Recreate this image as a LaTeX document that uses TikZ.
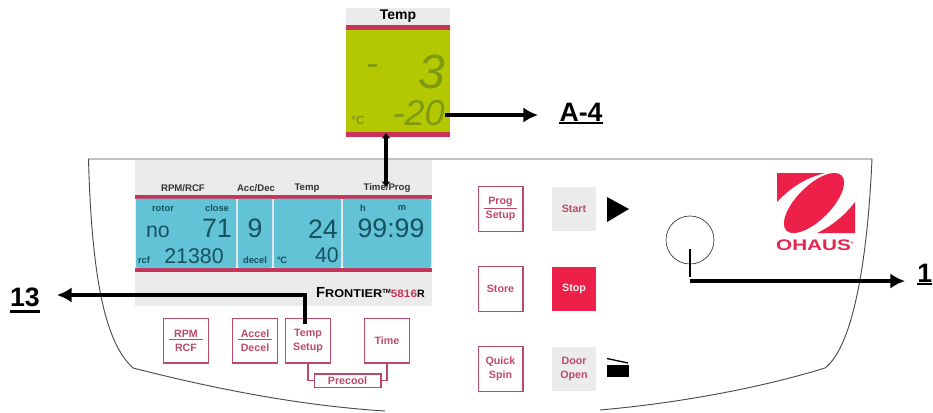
\documentclass[tikz,border=0pt]{standalone}
\usepackage{fontspec}
\setmainfont{Liberation Sans}
\usetikzlibrary{arrows.meta}
\definecolor{panelgray}{HTML}{EBEBEB}
\definecolor{barred}{HTML}{C9335A}
\definecolor{keyred}{HTML}{BE4A68}
\definecolor{stopred}{HTML}{EC2048}
\definecolor{lcdblue}{HTML}{62C3D6}
\definecolor{lcdink}{HTML}{17505F}
\definecolor{lcdgreen}{HTML}{B4C800}
\definecolor{segink}{HTML}{7F9A10}
\def\sz#1{\fontsize{#1}{#1}\selectfont}
\def\frc#1#2#3{\underline{\makebox[#1]{#2}}\\#3}
\begin{document}
\begin{tikzpicture}[x=0.75pt,y=-0.75pt,>={Latex[length=11pt,width=11.5pt]},
  keybox/.style={draw=keyred,line width=1pt,minimum width=33.5pt,minimum height=33.5pt,inner sep=0pt,
    text=keyred,align=center,font=\bfseries\fontsize{8}{10.5}\selectfont},
  graykey/.style={keybox,draw=none,fill=panelgray},
  head/.style={text=black!80,inner sep=0pt,font=\bfseries\sz{7.2}},
  small/.style={text=lcdink,inner sep=0pt,font=\bfseries\sz{7}},
  big/.style={text=lcdink,inner sep=0pt,font=\sz{20}},
  mid/.style={text=lcdink,inner sep=0pt,font=\sz{16}},
  seg/.style={text=segink,inner sep=0pt,font=\itshape\sz{27}},
  callout/.style={inner sep=0pt,font=\bfseries\sz{20}},
  arrow/.style={black,line width=2.5pt},
  uline/.style={black,line width=2.2pt},
  outline/.style={black!70,line width=0.7pt}]
\useasboundingbox (0,0) rectangle (933,412);

\draw[outline] (133,368) .. controls (108,345) and (92,290) .. (88.5,159) -- (872,159)
  .. controls (868,250) and (855,345) .. (825,368) .. controls (770,385) and (690,402) .. (600,410);
\draw[outline] (133,368) .. controls (200,385) and (290,405) .. (385,411);

\fill[panelgray] (135,160) rectangle (432,306);
\fill[barred] (135,195) rectangle (432,198.5);
\fill[barred] (135,268) rectangle (432,272);
\fill[lcdblue,rounded corners=1.5pt] (136,198.5) rectangle (236,268);
\fill[lcdblue,rounded corners=1.5pt] (238,198.5) rectangle (272,268);
\fill[lcdblue,rounded corners=1.5pt] (274,198.5) rectangle (341,268);
\fill[lcdblue,rounded corners=1.5pt] (343,198.5) rectangle (431,268);

\node[head] (rpmhead) at (183,188) {RPM/RCF};
\node[head] (acchead) at (256,188) {Acc/Dec};
\node[head] (temphead) at (307,188) {Temp};
\node[head] (timehead) at (387,188) {Time/Prog};

\node[small] (rotor) at (163,208) {rotor};
\node[small] (close) at (217,208) {close};
\node[small] (hour) at (363,208) {h};
\node[small] (minute) at (402,208) {m};
\node[small] (rcf) at (144,260) {rcf};
\node[small] (decel) at (255,260) {decel};
\node[small] (degree) at (282,260) {°C};

\node[mid] (no) at (158,232) {no};
\node[big] (rotorval) at (217,228) {71};
\node[big] (nine) at (255,228) {9};
\node[big] (tempset) at (323,229) {24};
\node[big] (clock) at (391,228) {99:99};
\node[mid] (rcfval) at (194,256) {21380};
\node[mid] (forty) at (327,255) {40};

\node[inner sep=0pt,anchor=east] (frontier) at (425,293) {\bfseries\sz{11}F\sz{8.5}\scalebox{1.12}[1]{RONTIER}\raisebox{3pt}{\sz{4.5}TM}\textcolor{barred}{\sz{8}\scalebox{1.1}[1]{5816}}\sz{8}R};

\node[keybox] (rpm) at (186,340.5) {\frc{25pt}{RPM}{RCF}};
\node[keybox] (accel) at (255,340.5) {\frc{25pt}{Accel}{Decel}};
\node[keybox] (tempsetup) at (308,340.5) {Temp\\Setup};
\node[keybox] (time) at (387,340.5) {Time};
\node[keybox,minimum width=50pt,minimum height=10pt] (precool) at (347.5,380.5) {Precool};
\draw[draw=keyred,line width=1pt] (tempsetup.south) |- (precool.west);
\draw[draw=keyred,line width=1pt] (time.south) |- (precool.east);

\node[keybox] (prog) at (500.5,209) {\frc{25pt}{Prog}{Setup}};
\node[graykey] (start) at (574,209) {Start};
\node[keybox] (store) at (500.5,289) {Store};
\node[graykey,fill=stopred,text=white!90!keyred] (stop) at (574,289) {Stop};
\node[keybox] (quick) at (500.5,369) {Quick\\Spin};
\node[graykey] (door) at (574,369) {Door\\Open};

\fill[black] (607,197) -- (629,209) -- (607,222) -- cycle;
\fill[black] (607,365) rectangle (629,377);
\draw[black,line width=1pt] (607,358.5) -- (628,363);

\fill[stopred] (777,173) -- (825,173) .. controls (805,178) and (790,188) .. (777,202) -- cycle;
\fill[stopred] (855,202) -- (855,233) -- (817,233) .. controls (832,226) and (845,215) .. (855,202) -- cycle;
\fill[stopred,rotate around={45:(814,203)}] (814,203) ellipse[x radius=39,y radius=17];
\node[inner sep=0pt,text=stopred!85!keyred] (ohaus) at (815,245) {\bfseries\sz{11.5}\scalebox{1.35}[1]{OHAUS}\raisebox{4pt}{\sz{3}®}};

\node[draw=black!80,line width=0.5pt,circle,minimum size=36pt,inner sep=0pt] (knob) at (690,240) {};
\coordinate (knobtop) at (690,249);
\coordinate (knobcorner) at (690,281);
\coordinate (knobend) at (905,281);
\draw[black,line width=1pt] (knobtop) -- (690,277);
\draw[->,arrow] (knobcorner) -- (knobend);
\node[callout,anchor=west] (labone) at (917,273) {1};
\draw[uline] (labone.south west |- 0,284) -- (labone.south east |- 0,284);

\node[draw=none,fill=panelgray,minimum width=78pt,minimum height=13pt,inner sep=0pt,font=\bfseries\sz{10.5}] (tempbox) at (398,16.5) {Temp};
\fill[barred] (346,25) rectangle (450,30);
\fill[lcdgreen] (346,30) rectangle (450,132);
\fill[barred] (346,132) rectangle (450,136.5);
\node[seg] (dash) at (372,70) {-};
\node[seg,anchor=east,font=\itshape\sz{36}] (three) at (445,72) {3};
\node[text=segink,inner sep=0pt,font=\bfseries\sz{9}] (degc) at (358,120) {°C};
\node[seg,anchor=east] (setval) at (445,113) {-20};

\coordinate (setend) at (538,115);
\draw[->,arrow] (setval.east |- setend) -- (setend);
\node[callout] (laba) at (581,112) {A-4};
\draw[uline] (laba.west |- 0,123) -- (laba.east |- 0,123);

\coordinate (linktop) at (386,133);
\coordinate (linkbottom) at (386,187);
\draw[<->,arrow,line width=3.5pt,>={Latex[length=4pt,width=7pt]}] (linktop) -- (linkbottom);

\coordinate (setupfoot) at (305,324);
\coordinate (setupcorner) at (305,295);
\coordinate (setupend) at (57,295);
\draw[->,arrow] (setupfoot) -- (setupcorner) -- (setupend);
\node[callout] (labthirteen) at (25,297) {13};
\draw[uline] (labthirteen.west |- 0,311.5) -- (labthirteen.east |- 0,311.5);
\end{tikzpicture}
\end{document}
